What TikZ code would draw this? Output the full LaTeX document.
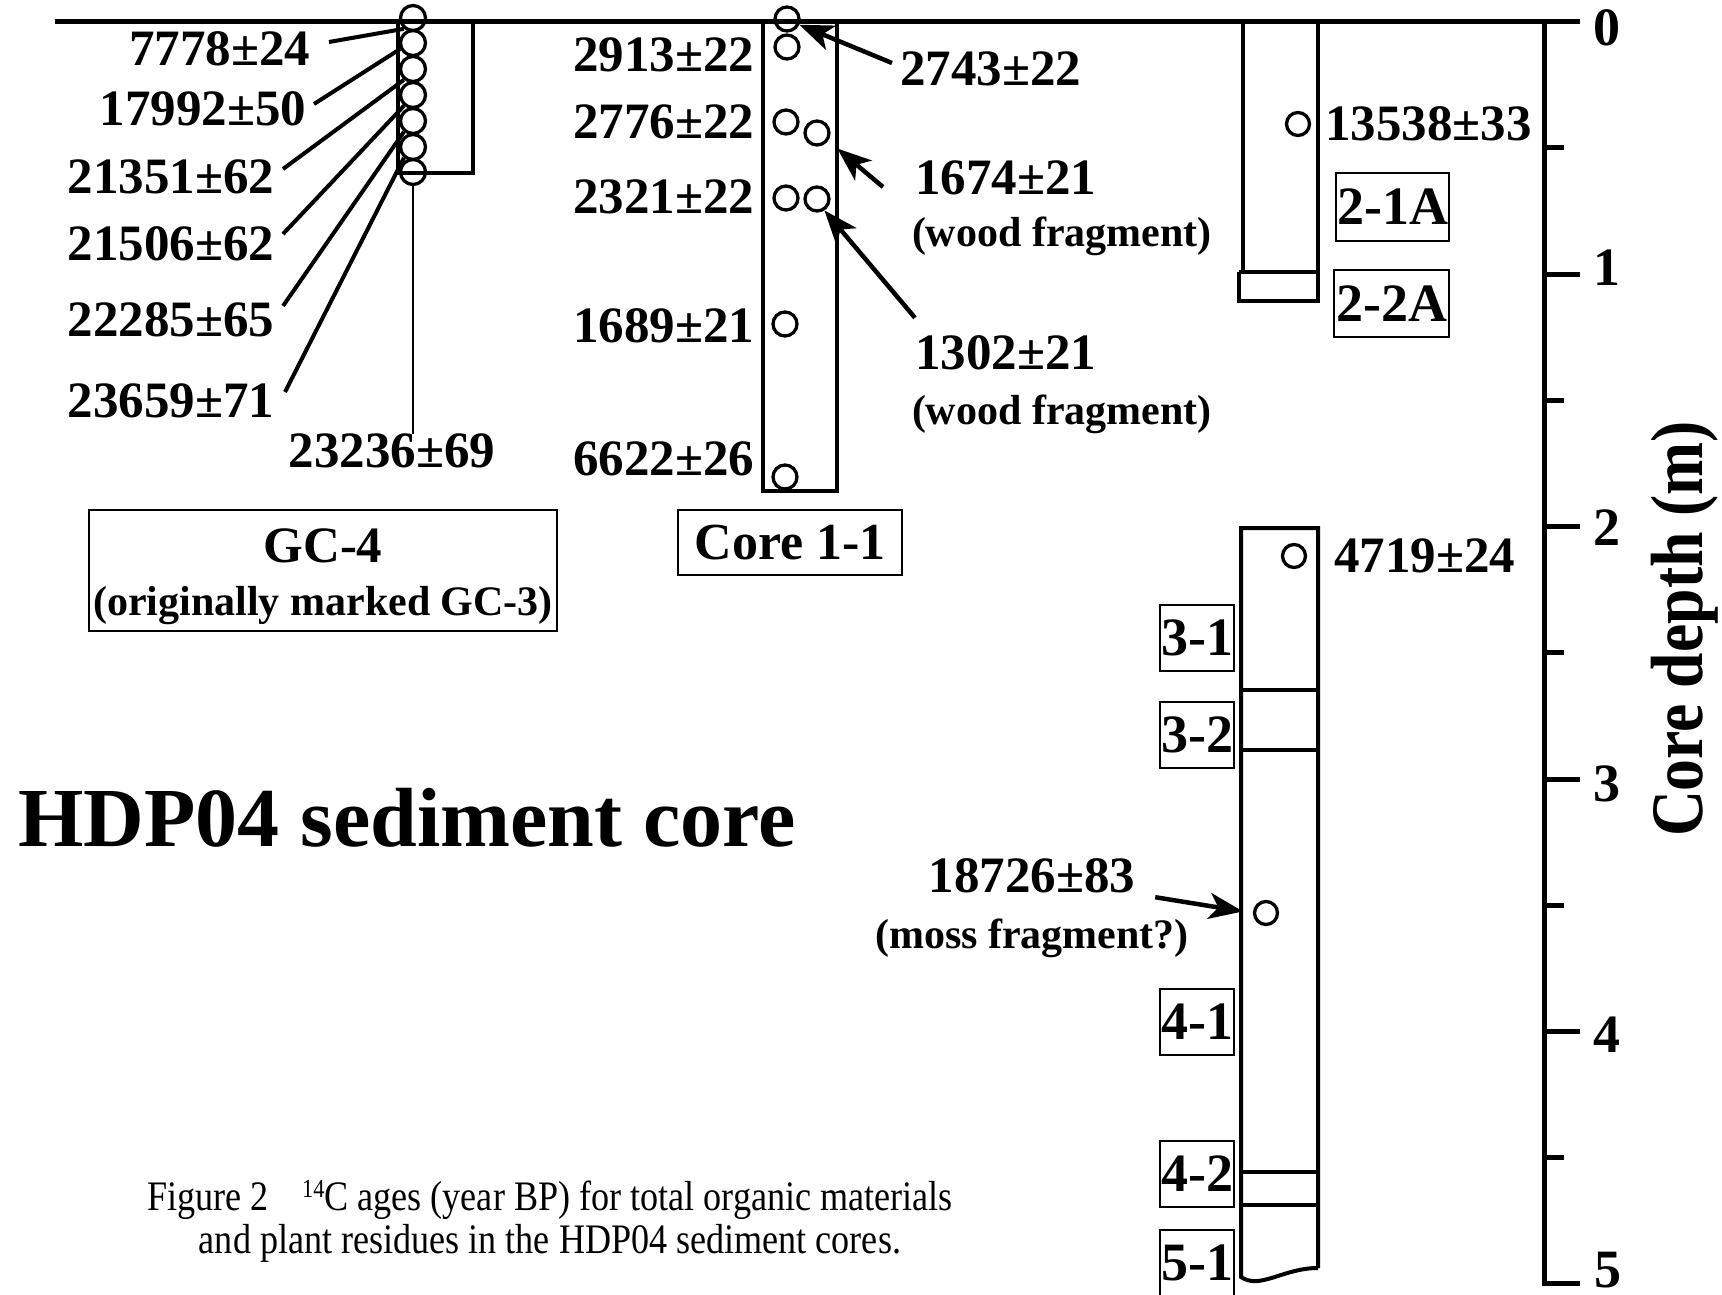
\documentclass[tikz,border=0pt]{standalone}
\usepackage{fontspec}
\setmainfont{Liberation Serif}
\newfontfamily\condfont{Liberation Serif}[FakeStretch=0.86]
\usetikzlibrary{arrows.meta}
\begin{document}
\begin{tikzpicture}[x=1pt,y=-1pt,
  age/.style={font=\fontsize{51}{58}\selectfont\bfseries, inner sep=0pt, outer sep=0pt},
  note/.style={font=\fontsize{42}{48}\selectfont\bfseries, inner sep=0pt, outer sep=0pt},
  smp/.style={circle, draw, line width=3.3pt, inner sep=0pt, minimum size=#1},
  smp/.default=24pt,
  corewall/.style={line width=4pt},
  tagbox/.style={draw, line width=2.5pt, inner sep=0pt, font=\fontsize{54}{60}\selectfont\bfseries},
  lead/.style={line width=4pt},
  thinlead/.style={line width=2.5pt},
  arr/.style={line width=4.5pt, -{Stealth[length=34pt,width=26pt,inset=9pt]}},
  axisline/.style={line width=5pt},
  ticklbl/.style={font=\fontsize{54}{60}\selectfont\bfseries, inner sep=0pt},
]
\useasboundingbox (0,0) rectangle (1722,1295);
\clip (0,0) rectangle (1722,1295);

% surface line
\draw[axisline] (55,22) -- (1575,22);

% ---------------- GC-4 ----------------
\draw[corewall] (398,22) -- (398,173) -- (473,173) -- (473,22);
\foreach \i/\y in {1/18,2/43,3/69,4/95,5/121,6/147,7/172}
  \node[smp=25pt] (g\i) at (413,\y) {};
\node[age, anchor=east] (a1) at (310,49) {7778±24};
\node[age, anchor=east] (a2) at (306,109) {17992±50};
\node[age, anchor=east] (a3) at (274,177) {21351±62};
\node[age, anchor=east] (a4) at (274,244) {21506±62};
\node[age, anchor=east] (a5) at (274,320) {22285±65};
\node[age, anchor=east] (a6) at (274,401) {23659±71};
\node[age] (a7) at (392,451) {23236±69};
\draw[lead] ([xshift=19pt,yshift=7pt]a1.east) -- (g1.230);
\draw[lead] ([xshift=8pt,yshift=5pt]a2.east) -- (g2.205);
\draw[lead] ([xshift=9pt,yshift=8pt]a3.east) -- (g3.230);
\draw[lead] ([xshift=9pt,yshift=10pt]a4.east) -- (g4.230);
\draw[lead] ([xshift=9pt,yshift=14pt]a5.east) -- (g5.230);
\draw[lead] ([xshift=11pt,yshift=9pt]a6.east) -- (g6.230);
\draw[thinlead] (g7.south) -- (g7.south |- a7.north);

\node[tagbox, minimum width=468pt, minimum height=121pt] (kgc) at (323,570.5) {};
\node[age] (kgc1) at (323,546) {GC-4};
\node[note] (kgc2) at (323,606) {(originally marked GC-3)};

% ---------------- Core 1-1 ----------------
\draw[corewall] (763,22) -- (763,491) -- (837,491) -- (837,22);
\node[smp] (c1) at (787,19) {};
\node[smp] (c2) at (787,47) {};
\node[smp] (c3) at (786,122) {};
\node[smp] (c4) at (817,133) {};
\node[smp] (c5) at (786,198) {};
\node[smp] (c6) at (817,199) {};
\node[smp] (c7) at (785,324) {};
\node[smp] (c8) at (785,477) {};
\node[age, anchor=east] (b1) at (754,55) {2913±22};
\node[age, anchor=east] (b2) at (754,122) {2776±22};
\node[age, anchor=east] (b3) at (754,197) {2321±22};
\node[age, anchor=east] (b4) at (754,326) {1689±21};
\node[age, anchor=east] (b5) at (754,459) {6622±26};
\node[age, anchor=west] (r1) at (900,69) {2743±22};
\node[age, anchor=west] (r2) at (915,178) {1674±21};
\node[note, anchor=west] (r2n) at (912,236) {(wood fragment)};
\node[age, anchor=west] (r3) at (915,353) {1302±21};
\node[note, anchor=west] (r3n) at (912,414) {(wood fragment)};
\draw[arr] ([xshift=-8pt,yshift=6pt]r1.west) -- (c1.-25);
\draw[arr, shorten >=12pt] ([xshift=-32pt,yshift=-9pt]r2.west) -- (c4.-35);
\draw[arr] ([yshift=18pt]r3.north west) -- (c6.-57);
\node[tagbox, minimum width=224pt, minimum height=65pt, font=\fontsize{52}{58}\selectfont\bfseries] (k11) at (790,542.5) {Core 1-1};

% ---------------- Core 2 ----------------
\draw[corewall] (1243,22) -- (1243,272);
\draw[corewall] (1239,272) -- (1239,301) -- (1318,301) -- (1318,22);
\draw[corewall] (1239,272) -- (1318,272);
\node[smp=23pt] (d1) at (1298,124) {};
\node[age, anchor=west] (e1) at (1325,124) {13538±33};
\node[tagbox, minimum width=113pt, minimum height=68pt] (k21) at (1392.5,207) {2-1A};
\node[tagbox, minimum width=115pt, minimum height=67pt] (k22) at (1391.5,303.5) {2-2A};

% ---------------- Core 3-5 ----------------
\draw[corewall] (1318,1268) -- (1318,528) -- (1241,528) -- (1241,1277)
  .. controls (1260,1290) and (1283,1268) .. (1318,1268);
\draw[corewall] (1241,690) -- (1318,690);
\draw[corewall] (1241,750) -- (1318,750);
\draw[corewall] (1241,1172) -- (1318,1172);
\draw[corewall] (1241,1205) -- (1318,1205);
\node[smp=23pt] (d2) at (1294,556) {};
\node[age, anchor=west] (e2) at (1334,556) {4719±24};
\node[smp=23pt] (d3) at (1266,913) {};
\node[age] (m1) at (1032,876) {18726±83};
\node[note] (m2) at (1032,938) {(moss fragment?)};
\draw[arr, shorten >=10pt] ([xshift=20pt,yshift=-4pt]m1.south east) -- (d3.west);
\node[tagbox, minimum width=74pt, minimum height=66pt] (k31) at (1197,638) {3-1};
\node[tagbox, minimum width=74pt, minimum height=66pt] (k32) at (1197,735) {3-2};
\node[tagbox, minimum width=74pt, minimum height=66pt] (k41) at (1197,1022) {4-1};
\node[tagbox, minimum width=74pt, minimum height=66pt] (k42) at (1197,1174) {4-2};
\node[tagbox, minimum width=74pt, minimum height=66pt] (k51) at (1197,1263) {5-1};

% ---------------- depth axis ----------------
\draw[axisline] (1544,22) -- (1544,1283);
\foreach \yy in {22,274,526,779,1031,1283}
  \draw[axisline] (1542,\yy) -- (1580,\yy);
\foreach \yy in {148,400,652,905,1157}
  \draw[axisline] (1542,\yy) -- (1564,\yy);
\node[ticklbl] (t0) at (1607,28) {0};
\node[ticklbl] (t1) at (1607,268) {1};
\node[ticklbl] (t2) at (1607,528) {2};
\node[ticklbl] (t3) at (1607,784) {3};
\node[ticklbl] (t4) at (1607,1035) {4};
\node[ticklbl] (t5) at (1608,1270) {5};
\node[font=\condfont\fontsize{74}{80}\selectfont\bfseries, rotate=90, anchor=base, inner sep=0pt] (axl) at (1702,629) {Core depth (m)};

% ---------------- title and caption ----------------
\node[font=\fontsize{84}{90}\selectfont\bfseries, inner sep=0pt] (title) at (407,818) {HDP04 sediment core};
\node[font=\condfont\fontsize{42}{48}\selectfont, inner sep=0pt, anchor=base] (cap1) at (550,1210)
  {Figure 2\hspace{0.8em}\raisebox{13pt}{\fontsize{26}{28}\selectfont 14}C ages (year BP) for total organic materials};
\node[font=\condfont\fontsize{42}{48}\selectfont, inner sep=0pt, anchor=base] (cap2) at (550,1253)
  {and plant residues in the HDP04 sediment cores.};
\end{tikzpicture}
\end{document}
